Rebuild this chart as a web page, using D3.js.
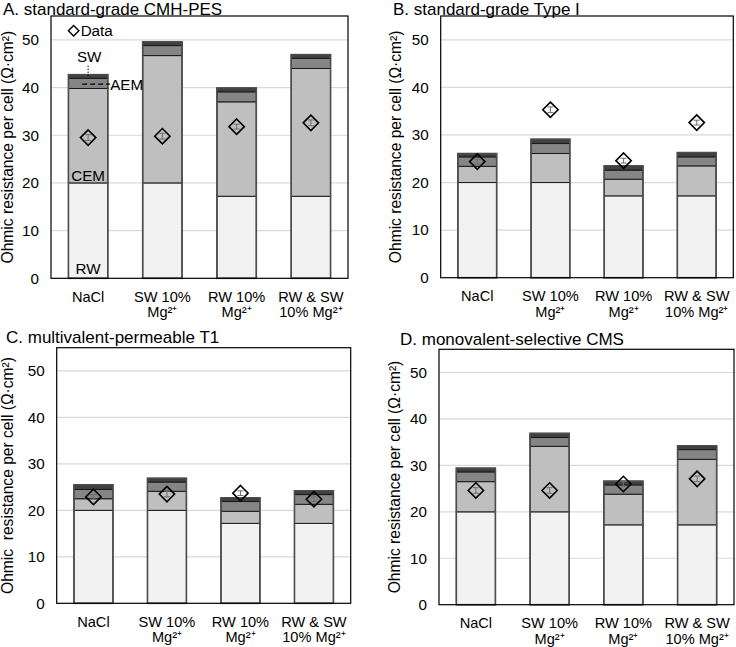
<!DOCTYPE html>
<html>
<head>
<meta charset="utf-8">
<script src="https://cdn.jsdelivr.net/npm/d3@7"></script>
<style>
	body { margin: 0; background: #fff; }
	svg { display: block; font-family: "Liberation Sans", Arial, sans-serif; }
	.ylab { white-space: pre; }
</style>
</head>
<body>
<div id="chart"></div>
<script>
// categories (x axis, two lines each)
var categories = ["NaCl", "SW Mg", "RW Mg", "RW SW Mg"];
var categoryLines = [
	["NaCl"],
	["SW 10%", "Mg²⁺"],
	["RW 10%", "Mg²⁺"],
	["RW & SW", "10% Mg²⁺"]
];
var layerNames = ["RW", "CEM", "AEM", "SW"];
var yTicks = [0, 10, 20, 30, 40, 50];

// A. standard-grade CMH-PES
var rwA  = [20.0, 20.0, 17.2, 17.2];
var cemA = [19.8, 26.7, 19.8, 26.8];
var aemA = [2.1, 2.1, 2.1, 2.1];
var swA  = [0.8, 0.8, 0.8, 0.8];
var dataA = [29.5, 29.8, 31.8, 32.6];
var errA  = [0.6, 0.6, 0.5, 0.6];

// B. standard-grade Type I
var rwB  = [20.0, 20.0, 17.2, 17.2];
var cemB = [3.4, 6.1, 3.5, 6.3];
var aemB = [2.0, 2.1, 1.9, 1.9];
var swB  = [0.7, 0.9, 0.9, 0.9];
var dataB = [24.4, 35.3, 24.6, 32.6];
var errB  = [0.5, 0.6, 0.5, 0.5];

// C. multivalent-permeable T1
var rwC  = [20.0, 20.0, 17.2, 17.2];
var cemC = [2.5, 4.1, 2.6, 4.1];
var aemC = [2.0, 2.0, 2.1, 2.1];
var swC  = [1.0, 0.8, 0.8, 0.8];
var dataC = [22.9, 23.5, 23.7, 22.4];
var errC  = [0.5, 0.6, 0.5, 0.5];

// D. monovalent-selective CMS
var rwD  = [20.0, 20.0, 17.2, 17.2];
var cemD = [6.5, 14.1, 6.6, 14.1];
var aemD = [2.1, 1.9, 2.0, 2.1];
var swD  = [0.8, 0.9, 0.8, 0.8];
var dataD = [24.6, 24.6, 26.0, 27.1];
var errD  = [0.6, 0.6, 0.5, 0.6];

var layerColors = ["#f2f2f2", "#bfbfbf", "#858585", "#404040"];

var svg = d3.select("#chart").append("svg")
	.attr("width", 736)
	.attr("height", 647);

var panels = [
	{ title: "A. standard-grade CMH-PES", ylabel: "Ohmic resistance per cell (Ω·cm²)",
	  rw: rwA, cem: cemA, aem: aemA, sw: swA, data: dataA, err: errA,
	  left: 51, top: 16, right: 348, bottom: 278.3, titleX: 3, titleY: 14.5, ylabX: 12.5, notes: true },
	{ title: "B. standard-grade Type I", ylabel: "Ohmic resistance per cell (Ω·cm²)",
	  rw: rwB, cem: cemB, aem: aemB, sw: swB, data: dataB, err: errB,
	  left: 440.7, top: 16, right: 733.3, bottom: 277.7, titleX: 393, titleY: 14.5, ylabX: 401 },
	{ title: "C. multivalent-permeable T1", ylabel: "Ohmic  resistance per cell (Ω·cm²)",
	  rw: rwC, cem: cemC, aem: aemC, sw: swC, data: dataC, err: errC,
	  left: 56.7, top: 347.7, right: 350.7, bottom: 603.3, titleX: 6, titleY: 343, ylabX: 13 },
	{ title: "D. monovalent-selective CMS", ylabel: "Ohmic resistance per cell (Ω·cm²)",
	  rw: rwD, cem: cemD, aem: aemD, sw: swD, data: dataD, err: errD,
	  left: 439, top: 349.3, right: 734, bottom: 604.7, titleX: 400, titleY: 345, ylabX: 400 }
];

panels.forEach(drawPanel);

function drawPanel(p) {
	var g = svg.append("g");

	var x = d3.scaleBand()
		.domain(categories)
		.range([p.left, p.right])
		.paddingInner(0.47)
		.paddingOuter(0.235);
	var y = d3.scaleLinear()
		.domain([0, 55])
		.range([p.bottom, p.top]);

	// title
	g.append("text")
		.attr("x", p.titleX)
		.attr("y", p.titleY)
		.attr("font-size", 17)
		.attr("fill", "#000")
		.text(p.title);

	// gridlines
	g.selectAll(".grid")
		.data(yTicks.filter(d => d > 0))
		.enter().append("line")
		.attr("x1", p.left).attr("x2", p.right)
		.attr("y1", d => y(d)).attr("y2", d => y(d))
		.attr("stroke", "#d9d9d9")
		.attr("stroke-width", 1.2);

	// y axis (labels only, no tick marks)
	var yAxis = d3.axisLeft(y).tickValues(yTicks).tickSize(0).tickPadding(12).tickFormat(d3.format("d"));
	var ya = g.append("g")
		.attr("transform", "translate(" + p.left + ",0)")
		.call(yAxis);
	ya.select(".domain").remove();
	ya.selectAll("text")
		.attr("font-size", 15.2)
		.attr("font-family", "Liberation Sans, Arial, sans-serif")
		.attr("fill", "#000");

	// y label
	g.append("text")
		.attr("class", "ylab")
		.attr("transform", "translate(" + p.ylabX + "," + ((p.top + p.bottom) / 2) + ") rotate(-90)")
		.attr("text-anchor", "middle")
		.attr("font-size", 15.6)
		.attr("fill", "#000")
		.text(p.ylabel);

	// stacked bars
	var rows = categories.map((c, i) => ({
		cat: c, RW: p.rw[i], CEM: p.cem[i], AEM: p.aem[i], SW: p.sw[i]
	}));
	var series = d3.stack().keys(layerNames)(rows);

	series.forEach((s, k) => {
		g.selectAll(".l" + k)
			.data(s)
			.enter().append("rect")
			.attr("x", d => x(d.data.cat))
			.attr("width", x.bandwidth())
			.attr("y", d => y(d[1]))
			.attr("height", d => y(d[0]) - y(d[1]))
			.attr("fill", layerColors[k])
			.attr("stroke", "#1a1a1a")
			.attr("stroke-width", 1);
	});

	// outer bar outline
	g.selectAll(".outline")
		.data(series[series.length - 1])
		.enter().append("rect")
		.attr("x", d => x(d.data.cat))
		.attr("width", x.bandwidth())
		.attr("y", d => y(d[1]))
		.attr("height", d => y(0) - y(d[1]))
		.attr("fill", "none")
		.attr("stroke", "#4d4d4d")
		.attr("stroke-width", 1.6);

	// error bars
	categories.forEach((c, i) => {
		var cx = x(c) + x.bandwidth() / 2;
		var hi = y(p.data[i] + p.err[i]), lo = y(p.data[i] - p.err[i]);
		g.append("line").attr("x1", cx).attr("x2", cx).attr("y1", hi).attr("y2", lo)
			.attr("stroke", "#6e6e6e").attr("stroke-width", 1);
		[hi, lo].forEach(yy => {
			g.append("line").attr("x1", cx - 3).attr("x2", cx + 3).attr("y1", yy).attr("y2", yy)
				.attr("stroke", "#6e6e6e").attr("stroke-width", 1);
		});
	});

	// data diamonds
	var dsym = d3.symbol().type(d3.symbolDiamond2).size(150);
	g.selectAll(".pt")
		.data(p.data)
		.enter().append("path")
		.attr("d", dsym)
		.attr("transform", (d, i) => "translate(" + (x(categories[i]) + x.bandwidth() / 2) + "," + y(d) + ")")
		.attr("fill", "none")
		.attr("stroke", "#000")
		.attr("stroke-width", 1.6);

	// frame
	g.append("rect")
		.attr("x", p.left).attr("y", p.top)
		.attr("width", p.right - p.left).attr("height", p.bottom - p.top)
		.attr("fill", "none")
		.attr("stroke", "#000")
		.attr("stroke-width", 1.2);

	// x labels
	categories.forEach((c, i) => {
		var t = g.append("text")
			.attr("x", x(c) + x.bandwidth() / 2)
			.attr("y", p.bottom + 23.5)
			.attr("text-anchor", "middle")
			.attr("font-size", 14.6)
			.attr("fill", "#000");
		categoryLines[i].forEach((line, j) => {
			t.append("tspan")
				.attr("x", x(c) + x.bandwidth() / 2)
				.attr("dy", j === 0 ? 0 : 15.5)
				.text(line);
		});
	});

	if (p.notes) drawNotes(g, x, y);
}

function drawNotes(g, x, y) {
	var cx = x(categories[0]) + x.bandwidth() / 2;
	// legend
	var sym = d3.symbol().type(d3.symbolDiamond2).size(70);
	g.append("path").attr("d", sym)
		.attr("transform", "translate(" + (cx - 14.5) + "," + y(51.9) + ")")
		.attr("fill", "none").attr("stroke", "#000").attr("stroke-width", 1.4);
	g.append("text").attr("x", cx - 7.5).attr("y", y(50.9))
		.attr("font-size", 15.2).text("Data");

	// layer annotations
	g.append("text").attr("x", cx + 1).attr("y", y(45.4))
		.attr("text-anchor", "middle").attr("font-size", 15.2).text("SW");
	g.append("line").attr("x1", cx).attr("x2", cx).attr("y1", y(44.6)).attr("y2", y(42.2))
		.attr("stroke", "#000").attr("stroke-width", 1).attr("stroke-dasharray", "1.5,1.5");
	g.append("line").attr("x1", cx - 6).attr("x2", cx + 22).attr("y1", y(40.7)).attr("y2", y(40.7))
		.attr("stroke", "#000").attr("stroke-width", 1.3).attr("stroke-dasharray", "5,3");
	g.append("text").attr("x", cx + 22).attr("y", y(39.5))
		.attr("font-size", 15.2).text("AEM");
	g.append("text").attr("x", cx).attr("y", y(20.4))
		.attr("text-anchor", "middle").attr("font-size", 15.2).text("CEM");
	g.append("text").attr("x", cx).attr("y", y(0.9))
		.attr("text-anchor", "middle").attr("font-size", 15.2).text("RW");
}
</script>
</body>
</html>
